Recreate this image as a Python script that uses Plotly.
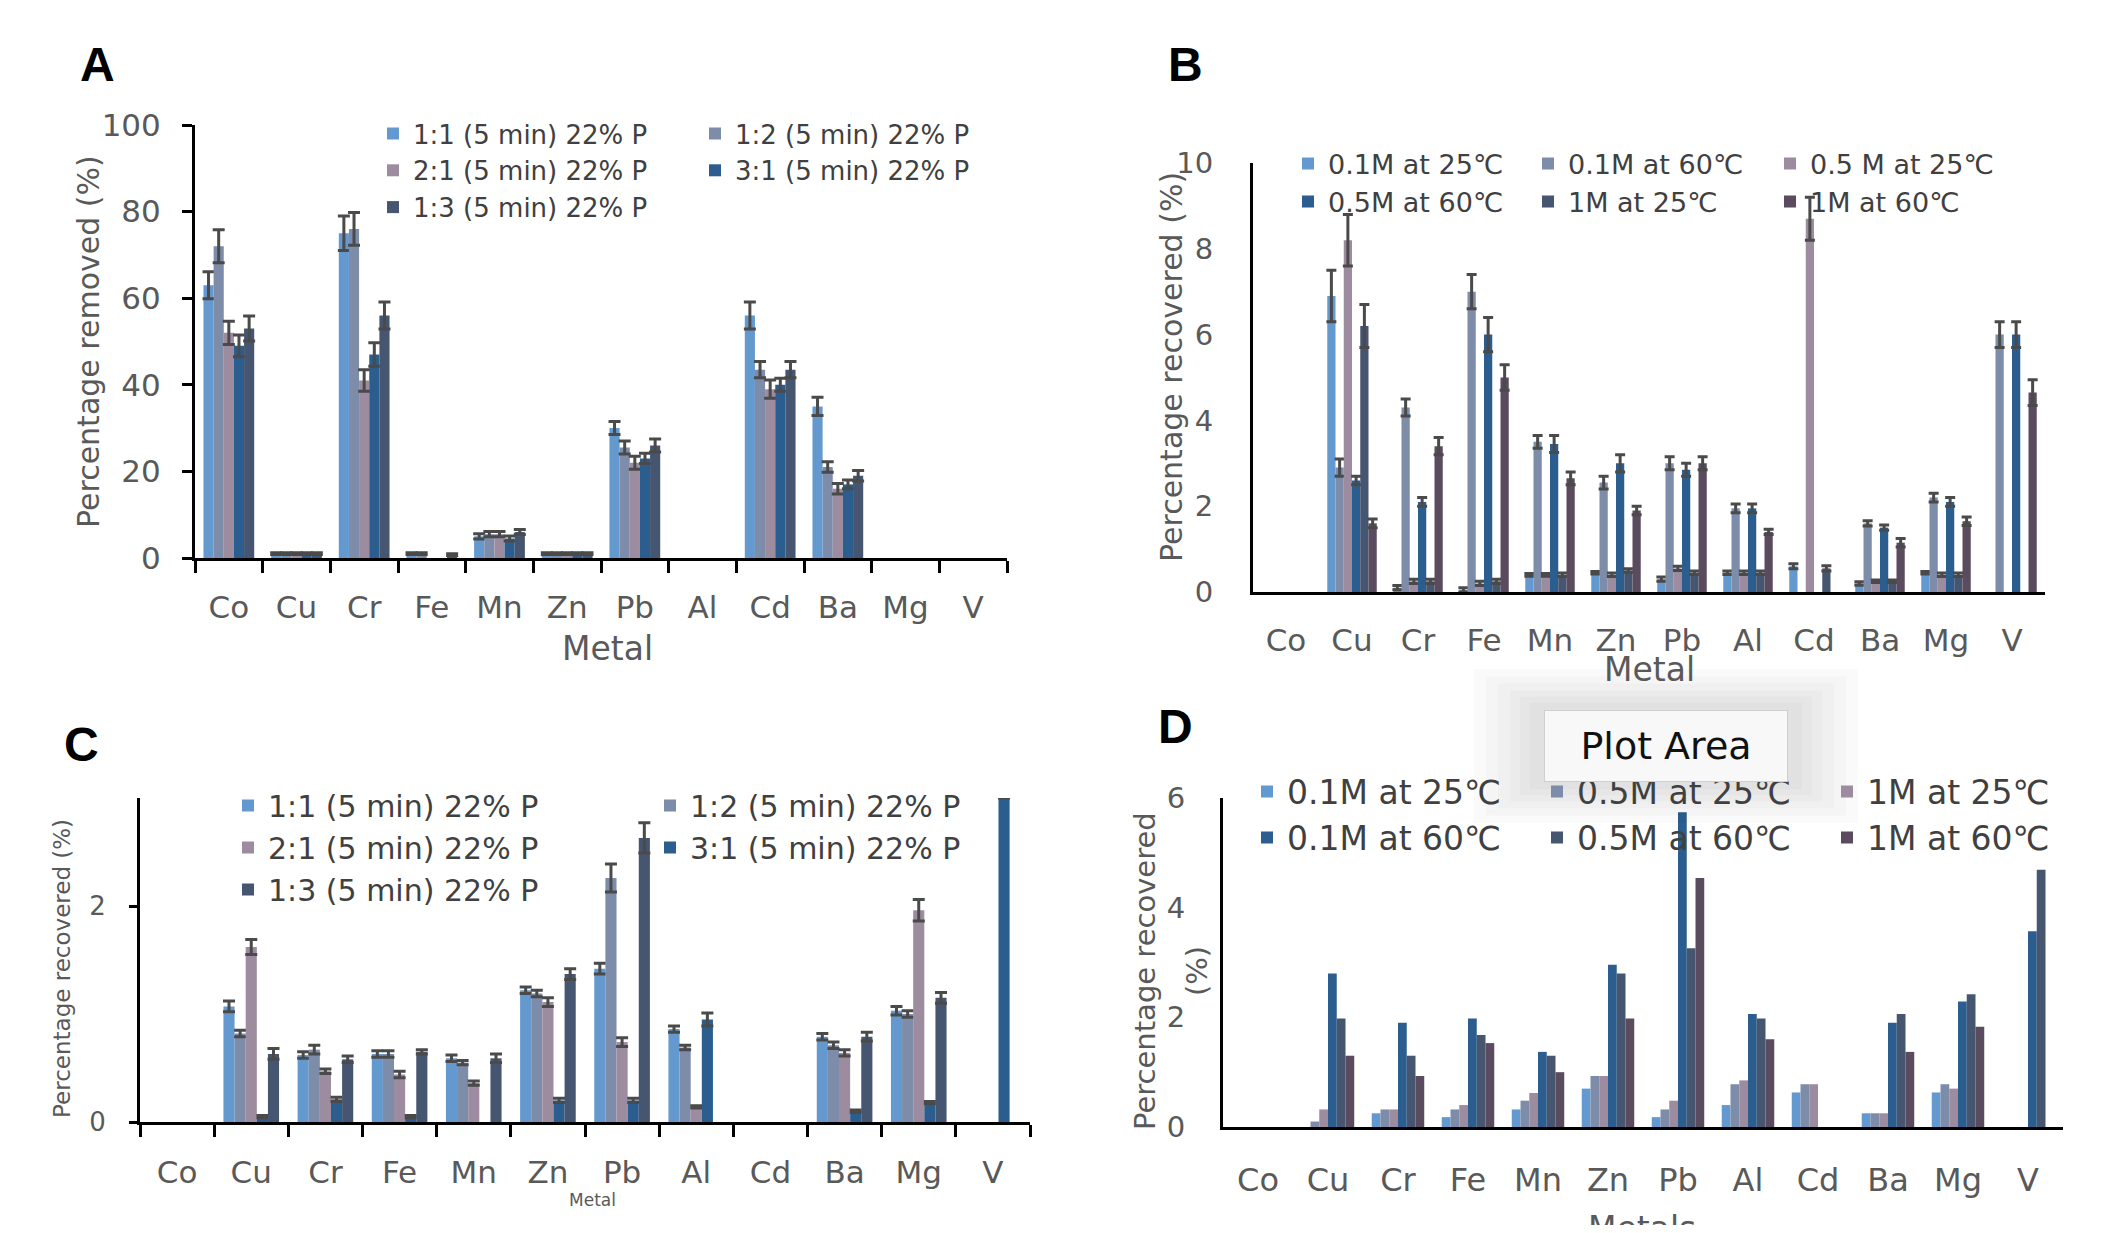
import plotly.graph_objects as go

# Screen geometry: the page body has an 8px margin, so the figure is drawn
# 16px smaller and every measured screen position is shifted by 8px.
SCR_W, SCR_H = 2111, 1233
OFF = 8
W, H = SCR_W - 2 * OFF, SCR_H - 2 * OFF
FONT = "DejaVu Sans, Open Sans, Noto Sans CJK SC, sans-serif"
TICK_COL = "#595959"
LEG_COL = "#404040"
ERR_COL = "#4a4a4a"

metals = ["Co", "Cu", "Cr", "Fe", "Mn", "Zn", "Pb", "Al", "Cd", "Ba", "Mg", "V"]

C_LB = "#6399CF"   # light blue
C_GB = "#7D8CA8"   # grey blue
C_MV = "#9D8BA0"   # mauve
C_DB = "#2B5E8E"   # dark blue
C_SL = "#465670"   # slate
C_PU = "#5B4B5E"   # dark purple

# ---------------- Panel A : percentage removed ----------------
a_names = ["1:1 (5 min) 22% P", "1:2 (5 min) 22% P", "2:1 (5 min) 22% P",
           "3:1 (5 min) 22% P", "1:3 (5 min) 22% P"]
a_11 = [63, 1, 75, 1, 5, 1, 30, 0, 56, 35, 0, 0]
a_11_err = [3.1, 0.2, 4, 0.2, 0.6, 0.2, 1.5, 0, 3.1, 2.1, 0, 0]
a_12 = [72, 1, 76, 1, 5.5, 1, 25.5, 0, 43.5, 21, 0, 0]
a_12_err = [3.8, 0.2, 3.8, 0.2, 0.6, 0.2, 1.5, 0, 1.9, 1.2, 0, 0]
a_21 = [52, 1, 41, 0, 5.5, 1, 22, 0, 39, 16, 0, 0]
a_21_err = [2.7, 0.2, 2.5, 0, 0.6, 0.2, 1.5, 0, 2.1, 1.2, 0, 0]
a_31 = [49, 1, 47, 0, 4.5, 1, 23, 0, 40, 17, 0, 0]
a_31_err = [2.5, 0.2, 2.7, 0, 0.6, 0.2, 1.2, 0, 1.5, 1.0, 0, 0]
a_13 = [53, 1, 56, 0.8, 6, 1, 26, 0, 43.5, 19, 0, 0]
a_13_err = [2.9, 0.2, 3.1, 0.2, 0.6, 0.2, 1.5, 0, 1.9, 1.2, 0, 0]

# ---------------- Panel B : percentage recovered ----------------
b_names = ["0.1M at 25℃", "0.1M at 60℃", "0.5 M at 25℃",
           "0.5M at 60℃", "1M at 25℃", "1M at 60℃"]
b_01_25 = [0, 6.9, 0.1, 0.05, 0.4, 0.45, 0.3, 0.45, 0.6, 0.2, 0.45, 0]
b_01_25_err = [0, 0.6, 0.05, 0.05, 0.03, 0.03, 0.05, 0.04, 0.06, 0.04, 0.03, 0]
b_01_60 = [0, 2.9, 4.3, 7.0, 3.5, 2.55, 3.0, 1.95, 0, 1.6, 2.2, 6.0]
b_01_60_err = [0, 0.2, 0.2, 0.4, 0.15, 0.15, 0.15, 0.1, 0, 0.06, 0.1, 0.3]
b_05_25 = [0, 8.2, 0.25, 0.2, 0.4, 0.4, 0.55, 0.45, 8.7, 0.25, 0.4, 0]
b_05_25_err = [0, 0.6, 0.05, 0.05, 0.03, 0.04, 0.05, 0.04, 0.5, 0.03, 0.04, 0]
b_05_60 = [0, 2.6, 2.1, 6.0, 3.45, 3.0, 2.85, 1.95, 0, 1.5, 2.1, 6.0]
b_05_60_err = [0, 0.1, 0.1, 0.4, 0.2, 0.2, 0.15, 0.1, 0, 0.06, 0.1, 0.3]
b_1_25 = [0, 6.2, 0.25, 0.25, 0.4, 0.5, 0.45, 0.45, 0.55, 0.25, 0.4, 0]
b_1_25_err = [0, 0.5, 0.05, 0.05, 0.04, 0.04, 0.04, 0.04, 0.06, 0.03, 0.04, 0]
b_1_60 = [0, 1.6, 3.4, 5.0, 2.65, 1.9, 3.0, 1.4, 0, 1.15, 1.65, 4.65]
b_1_60_err = [0, 0.1, 0.2, 0.3, 0.15, 0.1, 0.15, 0.06, 0, 0.1, 0.1, 0.3]

# ---------------- Panel C : percentage recovered ----------------
c_11 = [0, 1.07, 0.62, 0.63, 0.59, 1.22, 1.42, 0.86, 0, 0.79, 1.03, 0]
c_11_err = [0, 0.05, 0.03, 0.03, 0.03, 0.03, 0.05, 0.03, 0, 0.03, 0.04, 0]
c_12 = [0, 0.82, 0.67, 0.63, 0.55, 1.19, 2.26, 0.69, 0, 0.71, 1.0, 0]
c_12_err = [0, 0.03, 0.04, 0.03, 0.02, 0.03, 0.13, 0.02, 0, 0.03, 0.03, 0]
c_21 = [0, 1.62, 0.47, 0.44, 0.36, 1.11, 0.74, 0.14, 0, 0.64, 1.96, 0]
c_21_err = [0, 0.07, 0.02, 0.03, 0.02, 0.04, 0.04, 0.01, 0, 0.03, 0.1, 0]
c_31 = [0, 0.05, 0.21, 0.05, 0, 0.2, 0.2, 0.95, 0, 0.1, 0.18, 3.0]
c_31_err = [0, 0.01, 0.02, 0.01, 0, 0.02, 0.02, 0.06, 0, 0.01, 0.01, 0]
c_13 = [0, 0.63, 0.58, 0.65, 0.59, 1.37, 2.63, 0, 0, 0.79, 1.15, 0]
c_13_err = [0, 0.05, 0.03, 0.02, 0.04, 0.05, 0.14, 0, 0, 0.04, 0.05, 0]

# ---------------- Panel D : percentage recovered ----------------
d_names = ["0.1M at 25℃", "0.5M at 25℃", "1M at 25℃",
           "0.1M at 60℃", "0.5M at 60℃", "1M at 60℃"]
d_01_25 = [0, 0, 0.25, 0.18, 0.32, 0.7, 0.18, 0.4, 0.63, 0.25, 0.63, 0]
d_05_25 = [0, 0.1, 0.32, 0.32, 0.48, 0.93, 0.32, 0.78, 0.78, 0.25, 0.78, 0]
d_1_25 = [0, 0.32, 0.32, 0.4, 0.62, 0.93, 0.48, 0.85, 0.78, 0.25, 0.7, 0]
d_01_60 = [0, 2.8, 1.9, 1.98, 1.37, 2.96, 5.74, 2.06, 0, 1.9, 2.29, 3.57]
d_05_60 = [0, 1.98, 1.3, 1.68, 1.3, 2.8, 3.26, 1.98, 0, 2.06, 2.42, 4.69]
d_1_60 = [0, 1.3, 0.93, 1.53, 1.0, 1.98, 4.54, 1.6, 0, 1.37, 1.83, 0]


def px_x(x):
    return (x - OFF) / W


def px_y(y):
    return 1 - (y - OFF) / H


fig = go.Figure()


def add_panel(names, series, errors, colors, legends, xa, ya, cap, thick):
    for name, vals, errs, col, lg in zip(names, series, errors, colors, legends):
        yv = [v if v > 0 else None for v in vals]
        bar = dict(x=metals, y=yv, name=name, marker=dict(color=col, line=dict(width=0)),
                   xaxis=xa, yaxis=ya, legend=lg, legendgroup=f"{xa}-{name}",
                   hoverinfo="skip")
        if errs is not None:
            bar["error_y"] = dict(type="data", array=errs, visible=True, color=ERR_COL,
                                  thickness=thick, width=cap)
        fig.add_trace(go.Bar(**bar))


add_panel(a_names, [a_11, a_12, a_21, a_31, a_13],
          [a_11_err, a_12_err, a_21_err, a_31_err, a_13_err],
          [C_LB, C_GB, C_MV, C_DB, C_SL],
          ["legend", "legend2", "legend", "legend2", "legend"], "x", "y", 6, 3)
add_panel(b_names, [b_01_25, b_01_60, b_05_25, b_05_60, b_1_25, b_1_60],
          [b_01_25_err, b_01_60_err, b_05_25_err, b_05_60_err, b_1_25_err, b_1_60_err],
          [C_LB, C_GB, C_MV, C_DB, C_SL, C_PU],
          ["legend3", "legend4", "legend5", "legend3", "legend4", "legend5"], "x2", "y2", 5, 3)
add_panel(a_names, [c_11, c_12, c_21, c_31, c_13],
          [c_11_err, c_12_err, c_21_err, c_31_err, c_13_err],
          [C_LB, C_GB, C_MV, C_DB, C_SL],
          ["legend6", "legend7", "legend6", "legend7", "legend6"], "x3", "y3", 6, 3)
add_panel(d_names, [d_01_25, d_05_25, d_1_25, d_01_60, d_05_60, d_1_60],
          [None] * 6,
          [C_LB, C_GB, C_MV, C_DB, C_SL, C_PU],
          ["legend8", "legend9", "legend10", "legend8", "legend9", "legend10"], "x4", "y4", 5, 3)


def xaxis(dom, anchor, size, ticks, standoff):
    d = dict(domain=[px_x(dom[0]), px_x(dom[1])], anchor=anchor, type="category",
             categoryorder="array", categoryarray=metals, range=[-0.5, 11.5],
             showline=True, linecolor="black", linewidth=3, showgrid=False, zeroline=False,
             tickfont=dict(family=FONT, size=size, color=TICK_COL), ticklabelstandoff=standoff,
             fixedrange=True, automargin=False)
    if ticks:
        d.update(ticks="outside", tickson="boundaries", ticklen=12, tickwidth=3, tickcolor="black")
    else:
        d.update(ticks="")
    return d


def yaxis(top, bottom, anchor, rng, dtick, size, ticks, standoff, ticklen=10):
    d = dict(domain=[px_y(bottom), px_y(top)], anchor=anchor, range=rng, dtick=dtick,
             tick0=0, showline=True, linecolor="black", linewidth=3, showgrid=False,
             zeroline=False, tickfont=dict(family=FONT, size=size, color=TICK_COL),
             ticklabelstandoff=standoff, fixedrange=True, automargin=False)
    if ticks:
        d.update(ticks="outside", ticklen=ticklen, tickwidth=3, tickcolor="black")
    else:
        d.update(ticks="")
    return d


def leg(text_left, row1_center, size):
    return dict(x=px_x(text_left - 40), xanchor="left",
                y=px_y(row1_center - 0.65 * size - 7), yanchor="top",
                font=dict(family=FONT, size=size, color=LEG_COL),
                bgcolor="rgba(0,0,0,0)", borderwidth=0, tracegroupgap=0,
                orientation="v", itemclick=False, itemdoubleclick=False)


layout = dict(
    width=W, height=H, margin=dict(l=0, r=0, t=0, b=0, pad=0, autoexpand=False),
    paper_bgcolor="white", plot_bgcolor="white",
    barmode="group", bargap=0.25, bargroupgap=0,
    showlegend=True,
    xaxis=xaxis((195, 1007), "y", 31, True, 20),
    yaxis=yaxis(125, 558, "x", [0, 100], 20, 31, True, 15),
    xaxis2=xaxis((1253, 2045), "y2", 31, False, 19),
    yaxis2=yaxis(163, 592, "x2", [0, 10], 2, 29, False, 31),
    xaxis3=xaxis((140, 1030), "y3", 31, True, 21),
    yaxis3=yaxis(798, 1122, "x3", [0, 3], 2, 26, True, 18, ticklen=8),
    xaxis4=xaxis((1223, 2063), "y4", 32, False, 23),
    yaxis4=yaxis(798, 1127, "x4", [0, 6], 2, 29, False, 29),
)

layout["legend"] = leg(413, 134, 26)
layout["legend2"] = leg(735, 134, 26)
layout["legend3"] = leg(1328, 164, 27)
layout["legend4"] = leg(1568, 164, 27)
layout["legend5"] = leg(1810, 164, 27)
layout["legend6"] = leg(268, 806, 30)
layout["legend7"] = leg(690, 806, 30)
layout["legend8"] = leg(1287, 792, 33)
layout["legend9"] = leg(1577, 792, 33)
layout["legend10"] = leg(1867, 792, 33)

fig.update_layout(**layout)

ann = []


def text(x, y, s, size, color=TICK_COL, angle=0, bold=False, family=FONT):
    ann.append(dict(x=px_x(x), y=px_y(y), xref="paper", yref="paper", text=s,
                    showarrow=False, textangle=angle, xanchor="center", yanchor="middle",
                    font=dict(family=family, size=size, color=color,
                              weight="bold" if bold else "normal")))


LETTER_FONT = "Liberation Sans, Arial, sans-serif"
text(97, 65, "A", 48, "black", bold=True, family=LETTER_FONT)
text(1185, 65, "B", 48, "black", bold=True, family=LETTER_FONT)
text(81, 745, "C", 48, "black", bold=True, family=LETTER_FONT)
text(1175, 727, "D", 48, "black", bold=True, family=LETTER_FONT)

# axis titles
text(88, 342, "Percentage removed (%)", 30, angle=-90)
text(607, 648, "Metal", 33)
text(1171, 367, "Percentage recovered (%)", 30, angle=-90)
text(1649, 669, "Metal", 33)
text(62, 969, "Percentage recovered (%)", 23, angle=-90)
text(592, 1200, "Metal", 17)
text(1145, 971, "Percentage recovered", 29, angle=-90)
text(1197, 971, "(%)", 29, angle=-90)
text(1642, 1228, "Metals", 33)

# "Plot Area" tooltip box (sits on top of the legend, as in the screenshot)
ann.append(dict(x=px_x(1666), y=px_y(746), xref="paper", yref="paper", text="Plot Area",
                showarrow=False, xanchor="center", yanchor="middle", width=222, height=50,
                align="center", valign="middle", bgcolor="#f8f8f8", bordercolor="#cfcfcf",
                borderwidth=1, borderpad=10,
                font=dict(family=FONT, size=38, color="#111111")))

shapes = []
for pad in [70, 58, 46, 34, 24, 14]:
    shapes.append(dict(type="rect", xref="paper", yref="paper", layer="above",
                       x0=px_x(1544 - pad), x1=px_x(1788 + pad),
                       y0=px_y(781 + pad * 0.6), y1=px_y(711 - pad * 0.6),
                       line=dict(width=0), fillcolor="rgba(0,0,0,0.018)"))

fig.update_layout(annotations=ann, shapes=shapes)

fig.write_html("out.html")
